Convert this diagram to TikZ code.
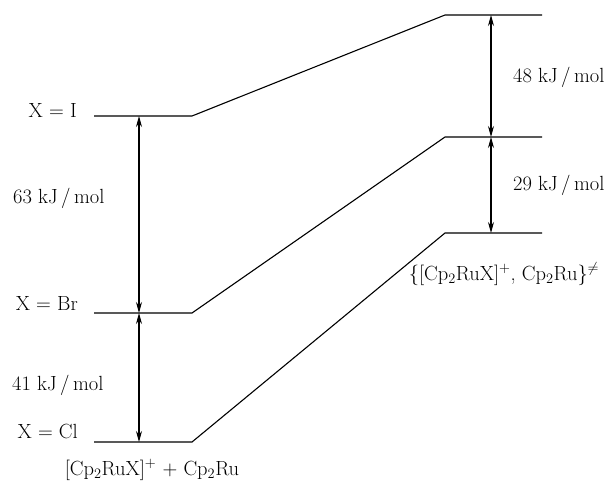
\documentclass[tikz,border=0pt]{standalone}
\usepackage{amsmath}
\usepackage{tikz}
\usetikzlibrary{positioning, arrows.meta}

\tikzset{
  level/.style={line width=1.1pt},
  gap/.style={line width=1.1pt, {Stealth[length=11pt,width=6pt]}-{Stealth[length=11pt,width=6pt]}},
  lbl/.style={inner sep=0pt, font=\fontsize{20.5}{24}\selectfont}
}

\begin{document}
\begin{tikzpicture}[x=1pt, y=-1pt]
  \useasboundingbox (0,0) rectangle (611,480);
  % niveaux des reactifs (gauche) et des etats de transition (droite)
  \coordinate (IL) at (94,116);   \coordinate (IR) at (192,116);
  \coordinate (BrL) at (94,313);  \coordinate (BrR) at (192,313);
  \coordinate (ClL) at (94,442);  \coordinate (ClR) at (192,442);
  \coordinate (TIL) at (445,15);  \coordinate (TIR) at (542,15);
  \coordinate (TBrL) at (445,137); \coordinate (TBrR) at (542,137);
  \coordinate (TClL) at (445,233); \coordinate (TClR) at (542,233);
  \draw[level] (IL) -- (IR) -- (TIL) -- (TIR);
  \draw[level] (BrL) -- (BrR) -- (TBrL) -- (TBrR);
  \draw[level] (ClL) -- (ClR) -- (TClL) -- (TClR);
  % fleches d'energie
  \coordinate (aI) at (139,116);  \coordinate (aBr) at (139,313);
  \coordinate (aCl) at (139,442);
  \coordinate (bI) at (491,15);   \coordinate (bBr) at (491,137);
  \coordinate (bCl) at (491,233);
  \draw[gap] (aI) -- (aBr);
  \draw[gap] (aBr) -- (aCl);
  \draw[gap] (bI) -- (bBr);
  \draw[gap] (bBr) -- (bCl);
  % etiquettes
  \node[lbl, anchor=base east] (xI) at (77,117) {X = I};
  \node[lbl, anchor=base east] (xBr) at (78,310) {X = Br};
  \node[lbl, anchor=base east] (xCl) at (78,438) {X = Cl};
  \node[lbl, anchor=base west] (e63) at (13,203) {63 kJ\,/\,mol};
  \node[lbl, anchor=base west] (e41) at (12,390) {41 kJ\,/\,mol};
  \node[lbl, anchor=base west] (e48) at (513,82) {48 kJ\,/\,mol};
  \node[lbl, anchor=base west] (e29) at (513,190) {29 kJ\,/\,mol};
  \node[lbl, anchor=base] (react) at (152,475) {[Cp$_2$RuX]$^+$ + Cp$_2$Ru};
  \node[lbl, anchor=base] (ts) at (504,280) {\{[Cp$_2$RuX]$^+$, Cp$_2$Ru\}$^{\neq}$};
\end{tikzpicture}
\end{document}
